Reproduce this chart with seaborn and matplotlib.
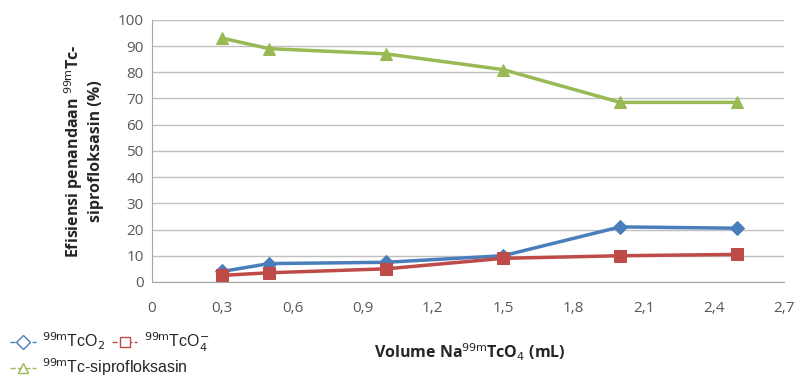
import pandas as pd
import seaborn as sns
import matplotlib.pyplot as plt
from matplotlib.lines import Line2D

# data
volume = [0.3, 0.5, 1.0, 1.5, 2.0, 2.5]
tco2 = [4, 7, 7.5, 10, 21, 20.5]
tco4 = [2.5, 3.5, 5, 9, 10, 10.5]
tc_sipro = [93, 89, 87, 81, 68.5, 68.5]

series_names = [r"$^{\mathrm{99m}}$TcO$_2$", r"$^{\mathrm{99m}}$TcO$_4^{-}$",
                r"$^{\mathrm{99m}}$Tc-siprofloksasin"]
colors = ["#4a7ebb", "#be4b48", "#98b954"]
markers = ["D", "s", "^"]
msizes = [7, 9, 9]

x_ticks = [0, 0.3, 0.6, 0.9, 1.2, 1.5, 1.8, 2.1, 2.4, 2.7]
y_ticks = list(range(0, 101, 10))

df = pd.DataFrame({
    "volume": volume * 3,
    "value": tco2 + tco4 + tc_sipro,
    "series": sum([[n] * len(volume) for n in series_names], []),
})

sns.set_style("white")
plt.rcParams["font.family"] = ["Open Sans", "DejaVu Sans"]

fig = plt.figure(figsize=(8, 3.81), dpi=100)
ax = fig.add_axes([0.19, 0.26, 0.79, 0.688])

for name, col, mk, ms in zip(series_names, colors, markers, msizes):
    sub = df[df["series"] == name]
    sns.lineplot(data=sub, x="volume", y="value", ax=ax, color=col, marker=mk,
                 markersize=ms, markeredgecolor=col, linewidth=2.5, legend=False)

ax.set_xlim(0, 2.7)
ax.set_ylim(0, 100)
ax.set_xticks(x_ticks)
ax.set_xticklabels([("%.1f" % t).replace(".", ",") if t else "0" for t in x_ticks])
ax.set_yticks(y_ticks)
ax.yaxis.grid(True, color="#c0c0c0", linewidth=1)
ax.xaxis.grid(False)
for s in ["top", "right"]:
    ax.spines[s].set_visible(False)
ax.spines["left"].set_color("#a6a6a6")
ax.spines["bottom"].set_color("#a6a6a6")
ax.tick_params(axis="both", labelsize=11, colors="#595959", length=0, pad=6)
ax.tick_params(axis="x", pad=14)
ax.set_xlabel("")
ax.set_ylabel("Efisiensi penandaan $^{\\mathrm{99m}}$Tc-\nsiprofloksasin (%)",
              fontsize=11.5, fontweight="bold", color="#262626", labelpad=10)

fig.text(0.587, 0.075, "Volume Na$^{\\mathrm{99m}}$TcO$_4$ (mL)", ha="center",
         va="center", fontsize=11.5, fontweight="bold", color="#262626")

# legend with hollow markers: two entries on first row, one on second
handles = [Line2D([0], [0], color=c, marker=m, markerfacecolor="white",
                  markeredgecolor=c, markersize=7, linestyle="--", linewidth=1)
           for c, m in zip(colors, markers)]
leg_kw = dict(frameon=False, prop={"family": ["Liberation Sans", "DejaVu Sans"], "size": 11.5},
              handlelength=1.6, handletextpad=0.4, columnspacing=0.4, borderaxespad=0.0)
fig.legend(handles[:2], series_names[:2], loc="lower left",
           bbox_to_anchor=(0.005, 0.055), ncol=2, **leg_kw)
fig.legend(handles[2:], series_names[2:], loc="lower left",
           bbox_to_anchor=(0.005, -0.01), ncol=1, **leg_kw)

fig.savefig("out.png", dpi=100)
